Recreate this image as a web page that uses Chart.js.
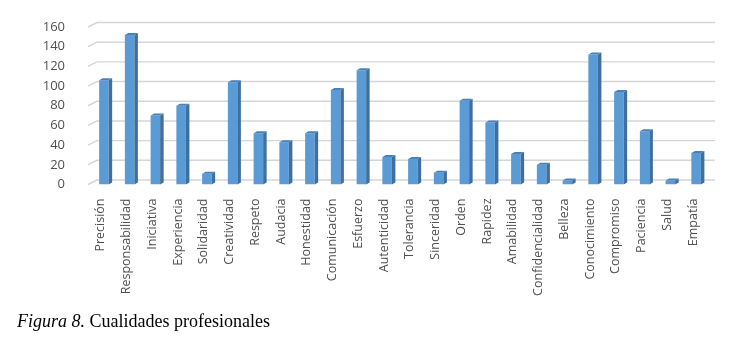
<!DOCTYPE html>
<html>
<head>
<meta charset="utf-8">
<script src="https://cdn.jsdelivr.net/npm/chart.js@4"></script>
<style>
  html, body { margin: 0; padding: 0; background: #fff; }
  #wrap { position: relative; width: 736px; height: 339px; }
  #chart { position: absolute; left: 0; top: 0; }
  #caption {
    position: absolute; left: 17px; top: 312px;
    font-family: "Liberation Serif", "DejaVu Serif", serif;
    font-size: 18px; line-height: 18px; color: #000; white-space: nowrap;
  }
</style>
</head>
<body>
<div id="wrap">
  <canvas id="chart" width="736" height="339"></canvas>
  <div id="caption"><i>Figura 8.</i> Cualidades profesionales</div>
</div>
<script>
// categories and values
const cualidades = ["Precisión", "Responsabilidad", "Iniciativa", "Experiencia", "Solidaridad",
  "Creatividad", "Respeto", "Audacia", "Honestidad", "Comunicación", "Esfuerzo", "Autenticidad",
  "Tolerancia", "Sinceridad", "Orden", "Rapidez", "Amabilidad", "Confidencialidad", "Belleza",
  "Conocimiento", "Compromiso", "Paciencia", "Salud", "Empatía"];
const frecuencia = [106, 152, 70, 80, 11, 104, 52, 43, 52, 96, 116, 28,
  26, 12, 85, 63, 31, 20, 4, 132, 94, 54, 4, 32];
const yTicks = [0, 20, 40, 60, 80, 100, 120, 140, 160];

// depth of the fake 3d effect
const DX = 3.5, DY = -2;

// draws the back wall grid and the side / top faces of each bar
const bar3d = {
  id: 'bar3d',
  beforeDatasetsDraw(chart) {
    const ctx = chart.ctx;
    const y = chart.scales.y;
    const area = chart.chartArea;
    ctx.save();
    ctx.strokeStyle = '#d6d6d6';
    ctx.lineWidth = 1.4;
    yTicks.forEach(v => {
      const py = y.getPixelForValue(v);
      ctx.beginPath();
      ctx.moveTo(area.left - 3, py);
      ctx.lineTo(area.left + 6, py - 4.5);
      ctx.lineTo(area.right + 6, py - 4.5);
      ctx.stroke();
    });
    ctx.restore();
  },
  afterDatasetsDraw(chart) {
    const ctx = chart.ctx;
    const meta = chart.getDatasetMeta(0);
    ctx.save();
    meta.data.forEach(bar => {
      const p = bar.getProps(['x', 'y', 'base', 'width'], true);
      const l = p.x - p.width / 2;
      const r = p.x + p.width / 2;
      // side
      ctx.fillStyle = '#3f6f9e';
      ctx.beginPath();
      ctx.moveTo(r, p.y);
      ctx.lineTo(r + DX, p.y + DY);
      ctx.lineTo(r + DX, p.base + DY);
      ctx.lineTo(r, p.base);
      ctx.closePath();
      ctx.fill();
      // top
      ctx.fillStyle = '#4a80b8';
      ctx.beginPath();
      ctx.moveTo(l, p.y);
      ctx.lineTo(l + DX, p.y + DY);
      ctx.lineTo(r + DX, p.y + DY);
      ctx.lineTo(r, p.y);
      ctx.closePath();
      ctx.fill();
    });
    ctx.restore();
  }
};

const ctx = document.getElementById('chart').getContext('2d');
const chart = new Chart(ctx, {
  type: 'bar',
  data: {
    labels: cualidades,
    datasets: [{
      data: frecuencia,
      backgroundColor: '#5b9bd5',
      borderWidth: 0,
      categoryPercentage: 1,
      barPercentage: 0.37
    }]
  },
  options: {
    responsive: false,
    animation: false,
    layout: { padding: { top: 27, right: 27, left: 0, bottom: 0 } },
    plugins: {
      legend: { display: false },
      tooltip: { enabled: false }
    },
    scales: {
      x: {
        grid: { display: false },
        border: { display: false },
        ticks: {
          autoSkip: false,
          minRotation: 90,
          maxRotation: 90,
          labelOffset: -3,
          padding: 6,
          color: '#505050',
          font: { family: 'Open Sans', size: 12.5 }
        },
        afterFit: s => { s.height = 154.5; }
      },
      y: {
        min: 0,
        max: 160,
        grid: { display: false },
        border: { display: false },
        afterBuildTicks: s => { s.ticks = yTicks.map(v => ({ value: v })); },
        ticks: {
          padding: 18,
          color: '#505050',
          font: { family: 'Open Sans', size: 13 }
        },
        afterFit: s => { s.width = 91; }
      }
    }
  },
  plugins: [bar3d]
});
</script>
</body>
</html>
